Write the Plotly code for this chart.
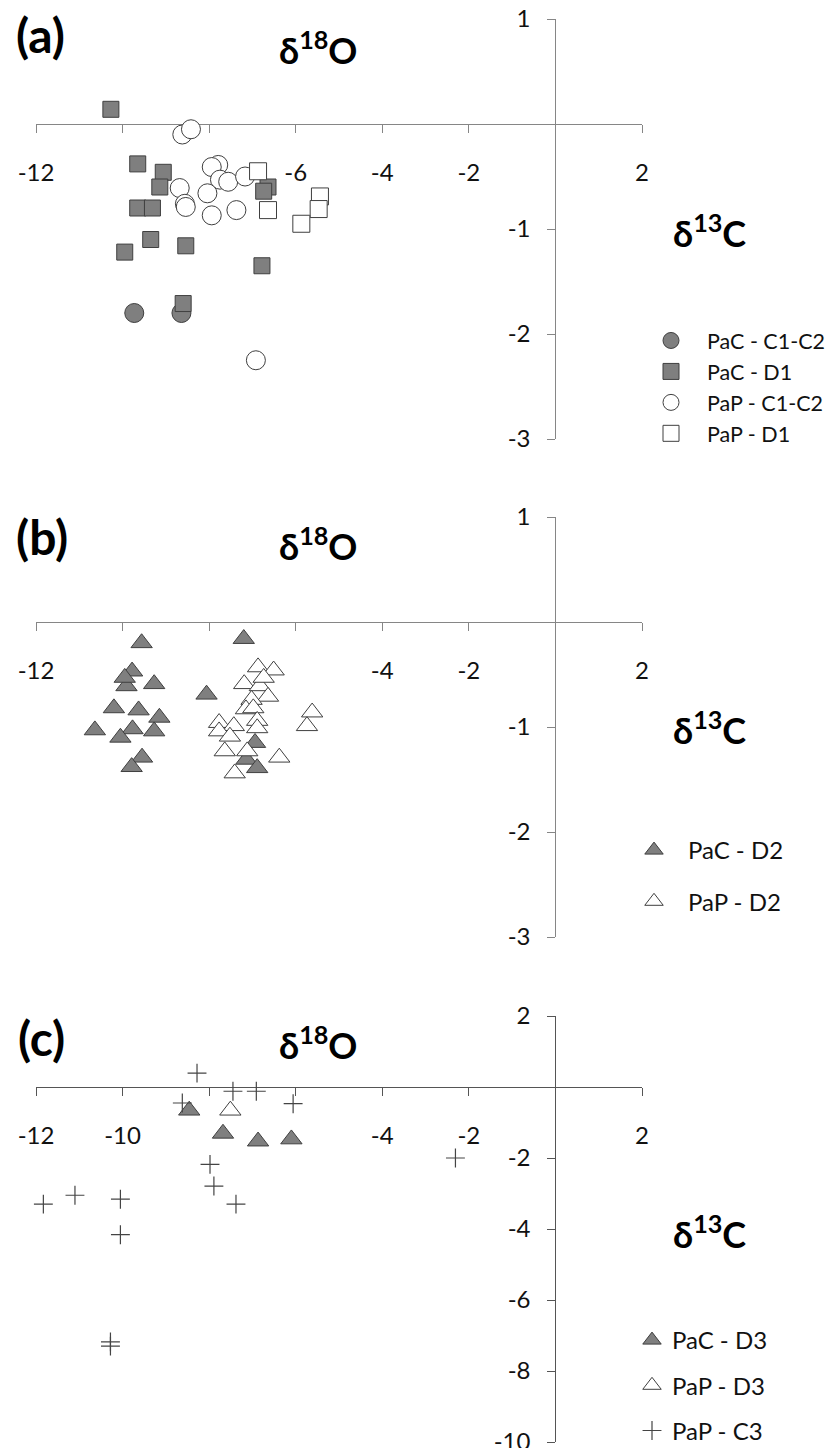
import plotly.graph_objects as go

# ---------------- data ----------------
# Panel (a)
pac_c12_a_x = [-9.73, -8.64]
pac_c12_a_y = [-1.80, -1.80]
pac_d1_a_x = [-10.27, -9.65, -9.06, -9.14, -9.65, -9.31, -9.35, -9.95, -8.54, -6.78, -8.60, -6.64, -6.74]
pac_d1_a_y = [0.14, -0.38, -0.46, -0.60, -0.80, -0.80, -1.10, -1.22, -1.16, -1.35, -1.71, -0.60, -0.64]
pap_c12_a_x = [-8.62, -8.42, -7.79, -7.94, -7.75, -7.56, -7.17, -8.68, -8.04, -8.56, -8.54, -7.94, -7.37, -6.92]
pap_c12_a_y = [-0.10, -0.05, -0.39, -0.41, -0.53, -0.55, -0.50, -0.61, -0.66, -0.76, -0.79, -0.87, -0.82, -2.25]
pap_d1_a_x = [-6.87, -6.64, -5.44, -5.47, -5.87]
pap_d1_a_y = [-0.45, -0.82, -0.69, -0.81, -0.95]

# Panel (b)
pac_d2_b_x = [-9.56, -9.78, -9.91, -9.95, -9.27, -10.20, -9.63, -9.15, -10.64, -9.77, -9.27, -10.05,
              -9.55, -9.79, -7.20, -8.06, -6.94, -7.14, -6.89]
pac_d2_b_y = [-0.20, -0.47, -0.61, -0.53, -0.59, -0.82, -0.84, -0.91, -1.03, -1.02, -1.04, -1.10,
              -1.29, -1.38, -0.16, -0.69, -1.15, -1.31, -1.39]
pap_d2_b_x = [-6.87, -6.51, -7.19, -6.83, -6.74, -6.64, -7.02, -7.15, -6.98, -6.89, -6.89, -7.77,
              -7.43, -7.77, -7.52, -7.64, -7.12, -7.41, -6.38, -5.62, -5.74]
pap_d2_b_y = [-0.43, -0.46, -0.59, -0.61, -0.53, -0.71, -0.74, -0.83, -0.82, -0.94, -1.01, -0.96,
              -0.99, -1.04, -1.09, -1.23, -1.23, -1.44, -1.29, -0.86, -0.99]

# Panel (c)
pac_d3_c_x = [-8.46, -7.68, -6.87, -6.10]
pac_d3_c_y = [-0.66, -1.31, -1.53, -1.47]
pap_d3_c_x = [-7.51]
pap_d3_c_y = [-0.66]
pap_c3_c_x = [-8.28, -8.62, -7.45, -6.91, -6.06, -7.98, -7.89, -7.38, -11.83, -11.10, -10.05, -10.05,
              -10.28, -10.28, -2.31]
pap_c3_c_y = [0.39, -0.45, -0.12, -0.12, -0.47, -2.18, -2.79, -3.30, -3.30, -3.05, -3.16, -4.16,
              -7.18, -7.30, -2.00]

# tick values / labels
x_tickvals = [-12, -10, -8, -6, -4, -2, 0, 2]
x_ticktext_a = ["-12", "", "", "-6", "-4", "-2", "", "2"]
x_ticktext_b = ["-12", "", "", "", "-4", "-2", "", "2"]
x_ticktext_c = ["-12", "-10", "", "", "-4", "-2", "", "2"]
y_tickvals_ab = [-3, -2, -1, 0, 1]
y_ticktext_ab = ["-3", "-2", "-1", "", "1"]
y_tickvals_c = [-10, -8, -6, -4, -2, 0, 2]
y_ticktext_c = ["-10", "-8", "-6", "-4", "-2", "", "2"]

# ---------------- layout helpers ----------------
W, H = 831, 1448
FONT = "Lato, 'Open Sans', sans-serif"
GRAY = "#7f7f7f"
EDGE = "#3f3f3f"
AX = "#868686"

X_LEFT, X_RIGHT = 36, 642  # pixel extents of x range [-12, 2]
XR = [-12, 2]

panels = [
    dict(yr=[-3, 1], top=19, bot=439, xtt=x_ticktext_a, ytv=y_tickvals_ab, ytt=y_ticktext_ab, axc=AX),
    dict(yr=[-3, 1], top=517, bot=937, xtt=x_ticktext_b, ytv=y_tickvals_ab, ytt=y_ticktext_ab, axc=AX),
    dict(yr=[-10, 2], top=1016, bot=1442, xtt=x_ticktext_c, ytv=y_tickvals_c, ytt=y_ticktext_c, axc="#555555"),
]

fig = go.Figure()

def add(x, y, name, panel, legend, symbol, size, fill, edge=EDGE, lw=1):
    sfx = "" if panel == 1 else str(panel)
    fig.add_trace(go.Scatter(
        x=x, y=y, mode="markers", name=name,
        xaxis="x" + sfx, yaxis="y" + sfx,
        legend=legend, legendgroup=name,
        marker=dict(symbol=symbol, size=size, color=fill, line=dict(color=edge, width=lw)),
        cliponaxis=False,
    ))

add(pac_c12_a_x, pac_c12_a_y, "PaC - C1-C2", 1, "legend", "circle", 19, GRAY)
add(pac_d1_a_x, pac_d1_a_y, "PaC - D1", 1, "legend", "square", 16, GRAY)
add(pap_c12_a_x, pap_c12_a_y, "PaP - C1-C2", 1, "legend", "circle", 19, "white")
add(pap_d1_a_x, pap_d1_a_y, "PaP - D1", 1, "legend", "square", 17, "white")

add(pac_d2_b_x, pac_d2_b_y, "PaC - D2", 2, "legend2", "triangle-up", 18.5, GRAY)
add(pap_d2_b_x, pap_d2_b_y, "PaP - D2", 2, "legend2", "triangle-up", 18.5, "white")

add(pac_d3_c_x, pac_d3_c_y, "PaC - D3", 3, "legend3", "triangle-up", 18.5, GRAY)
add(pap_d3_c_x, pap_d3_c_y, "PaP - D3", 3, "legend3", "triangle-up", 18.5, "white")
add(pap_c3_c_x, pap_c3_c_y, "PaP - C3", 3, "legend3", "cross-thin", 13.5, "#444444", edge="#444444", lw=1.2)

layout = {}
x0pix = X_LEFT + (0 - XR[0]) / (XR[1] - XR[0]) * (X_RIGHT - X_LEFT)
for i, p in enumerate(panels, start=1):
    sfx = "" if i == 1 else str(i)
    ymin, ymax = p["yr"]
    y0pix = p["top"] + (ymax - 0) / (ymax - ymin) * (p["bot"] - p["top"])
    layout["xaxis" + sfx] = dict(
        domain=[X_LEFT / W, X_RIGHT / W], range=XR, anchor="free", position=1 - y0pix / H,
        showline=True, linecolor=p["axc"], linewidth=1.3, ticks="outside", ticklen=8,
        tickcolor=p["axc"], tickwidth=1.3, tickvals=x_tickvals, ticktext=p["xtt"],
        showgrid=False, zeroline=False, tickfont=dict(family=FONT, size=24, color="#111111"),
        ticklabelstandoff=19, layer="below traces", fixedrange=True, automargin=False,
        ticklabeloverflow="allow",
    )
    layout["yaxis" + sfx] = dict(
        domain=[1 - p["bot"] / H, 1 - p["top"] / H], range=p["yr"], anchor="free",
        position=x0pix / W, showline=True, linecolor=p["axc"], linewidth=1.3, ticks="outside",
        ticklen=8, tickcolor=p["axc"], tickwidth=1.3, tickvals=p["ytv"], ticktext=p["ytt"],
        showgrid=False, zeroline=False, tickfont=dict(family=FONT, size=24, color="#111111"),
        ticklabelstandoff=12, layer="below traces", fixedrange=True, automargin=False,
        ticklabeloverflow="allow",
    )

def ann(text, xp, yp, size):
    return dict(text=text, x=xp / W, y=1 - yp / H, xref="paper", yref="paper",
                xanchor="center", yanchor="middle", showarrow=False,
                font=dict(family=FONT, size=size, color="#000000"))

annotations = [
    ann("<b>(a)</b>", 40, 34, 48), ann("<b>(b)</b>", 42, 536, 48), ann("<b>(c)</b>", 41, 1037, 48),
    ann("<b>δ<sup>18</sup>O</b>", 318, 48, 36), ann("<b>δ<sup>18</sup>O</b>", 318, 544, 36),
    ann("<b>δ<sup>18</sup>O</b>", 318, 1043, 36),
    ann("<b>δ<sup>13</sup>C</b>", 709, 231, 36), ann("<b>δ<sup>13</sup>C</b>", 709, 728, 36),
    ann("<b>δ<sup>13</sup>C</b>", 709, 1232, 36),
]

def leg(xp, yp, gap, iw, fs, xa="left"):
    return dict(x=xp / W, y=1 - yp / H, xanchor=xa, yanchor="top", bgcolor="rgba(0,0,0,0)",
                borderwidth=0, tracegroupgap=gap, font=dict(family=FONT, size=fs, color="#111111"),
                itemsizing="trace", itemwidth=iw)

fig.update_layout(
    width=W, height=H, margin=dict(l=0, r=0, t=0, b=0, pad=0, autoexpand=False),
    paper_bgcolor="white", plot_bgcolor="white", showlegend=True,
    annotations=annotations,
    legend=leg(831, 320, 0, 62, 21.5, "right"), legend2=leg(620, 828, 17, 58, 24),
    legend3=leg(632, 1318, 11, 30, 24),
    font=dict(family=FONT),
    **layout,
)

fig.write_html("out.html", config={"displayModeBar": False},
               post_script="document.body.style.margin='0';document.body.style.overflow='hidden';")
